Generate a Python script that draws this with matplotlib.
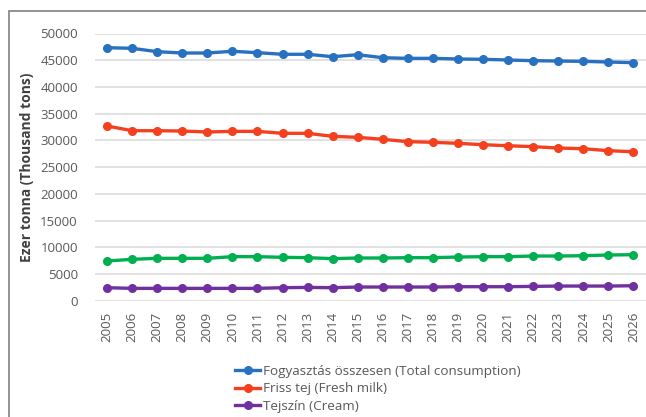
import numpy as np
import matplotlib.pyplot as plt
from matplotlib.patches import Rectangle

years = list(range(2005, 2027))

total = [47340, 47230, 46600, 46350, 46350, 46670, 46410, 46110, 46110, 45660, 46030,
         45470, 45350, 45350, 45230, 45170, 45040, 44910, 44850, 44790, 44660, 44540]
fresh_milk = [32690, 31810, 31810, 31750, 31570, 31690, 31690, 31320, 31320, 30760, 30570,
              30200, 29760, 29640, 29450, 29190, 29000, 28820, 28570, 28440, 28070, 27880]
green_series = [7430, 7740, 7930, 7930, 7930, 8240, 8240, 8120, 8050, 7870, 7990,
                7990, 8050, 8050, 8170, 8240, 8240, 8360, 8360, 8420, 8550, 8610]
cream = [2430, 2310, 2310, 2310, 2310, 2310, 2310, 2430, 2490, 2430, 2560,
         2560, 2560, 2560, 2620, 2620, 2620, 2680, 2740, 2740, 2740, 2800]

labels = ["Fogyasztás összesen (Total consumption)",
          "Friss tej (Fresh milk)",
          "Tejszín (Cream)"]
yticks = list(range(0, 50001, 5000))

plt.rcParams['font.family'] = ['Open Sans', 'DejaVu Sans']

W, H = 646, 417
fig = plt.figure(figsize=(W / 100, H / 100), dpi=100)

# outer chart frame (cut by the image edge)
fig.patches.append(Rectangle((9 / W, -0.1), 1.2, 1 - 11 / H + 0.1, transform=fig.transFigure,
                             fill=False, edgecolor='#808080', linewidth=1.2))

left, right = 94.5 / W, 1.0
bottom, top = 1 - 300.7 / H, 1 - 33.5 / H
ax = fig.add_axes([left, bottom, right - left, top - bottom])

kw = dict(linewidth=2.4, marker='o', markersize=5.5)
l1, = ax.plot(years, total, color='#2870C0', **kw)
l2, = ax.plot(years, fresh_milk, color='#F5401F', **kw)
ax.plot(years, green_series, color='#00B050', **kw)
l3, = ax.plot(years, cream, color='#7030A0', **kw)

ax.set_xlim(2004.5, 2026.5)
ax.set_ylim(0, 50000)
ax.set_yticks(yticks)
ax.set_xticks(years)
ax.set_xticklabels([str(y) for y in years], rotation=90)
ax.tick_params(axis='both', length=0, colors='#595959', labelsize=9.5)
ax.tick_params(axis='x', pad=8)
ax.tick_params(axis='y', pad=12)
for s in ax.spines.values():
    s.set_visible(False)
ax.grid(axis='y', color='#d9d9d9', linewidth=1.1)
ax.set_axisbelow(True)

ax.set_ylabel("Ezer tonna (Thousand tons)", fontsize=10, fontweight='bold',
              color='#404040')
ax.yaxis.set_label_coords((34 - 94.5) / (W * (right - left)), 0.5)

fig.legend([l1, l2, l3], labels, loc='upper left',
           bbox_to_anchor=(228 / W, 1 - 358 / H), frameon=False,
           fontsize=9.7, labelcolor='#595959', handlelength=1.9,
           handletextpad=0.2, labelspacing=0.35, borderpad=0)

plt.savefig('out.png', dpi=100)
